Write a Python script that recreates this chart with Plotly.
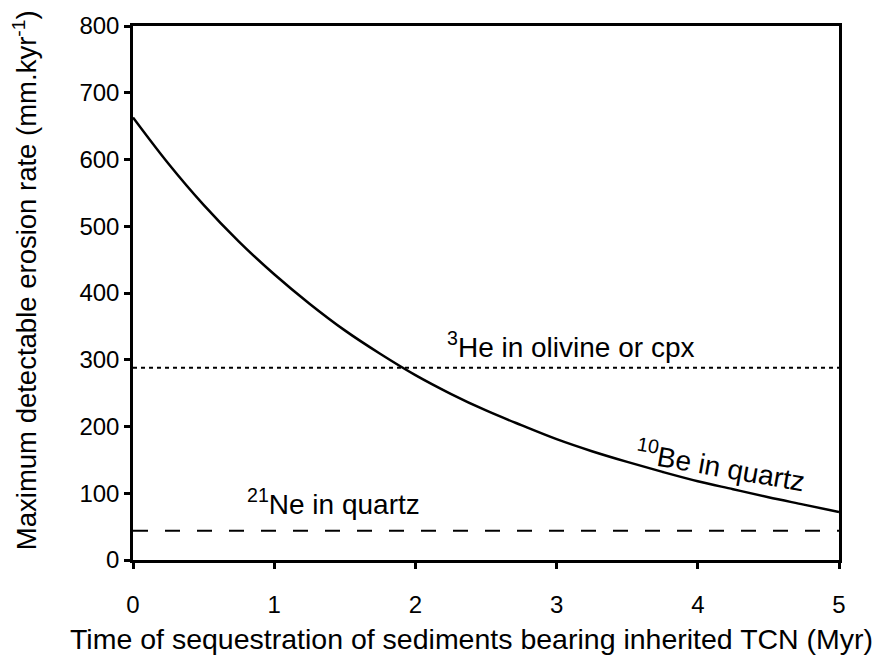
import plotly.graph_objects as go

# Maximum detectable erosion rate for 10Be in quartz vs. sequestration time
time_myr = [0.0, 0.25, 0.5, 0.75, 1.0, 1.25, 1.5, 1.75, 2.0, 2.25, 2.5,
            2.75, 3.0, 3.25, 3.5, 3.75, 4.0, 4.25, 4.5, 4.75, 5.0]
be10_rate = [663, 594, 532, 477, 428, 384, 344, 309, 277, 249, 224,
             202, 181, 163, 147, 132, 118, 106, 94, 83, 72]

# Constant thresholds for the stable nuclides
he3_rate = 288
ne21_rate = 44

x_ticks = [0, 1, 2, 3, 4, 5]
y_ticks = [0, 100, 200, 300, 400, 500, 600, 700, 800]

FONT = "Liberation Sans, Arial, sans-serif"

fig = go.Figure()

fig.add_trace(go.Scatter(
    x=time_myr, y=be10_rate, mode="lines",
    line=dict(color="black", width=2.5, shape="spline"),
    showlegend=False, hoverinfo="skip"))

fig.add_trace(go.Scatter(
    x=[x_ticks[0], x_ticks[-1]], y=[he3_rate, he3_rate], mode="lines",
    line=dict(color="black", width=2, dash="4px,4px"),
    showlegend=False, hoverinfo="skip"))

fig.add_trace(go.Scatter(
    x=[x_ticks[0], x_ticks[-1]], y=[ne21_rate, ne21_rate], mode="lines",
    line=dict(color="black", width=2, dash="15px,17px"),
    showlegend=False, hoverinfo="skip"))

label_font = dict(family=FONT, size=28, color="black")
fig.add_annotation(x=3.1, y=322, text="<sup>3</sup>He in olivine or cpx",
                   showarrow=False, font=label_font)
fig.add_annotation(x=1.42, y=87, text="<sup>21</sup>Ne in quartz",
                   showarrow=False, font=label_font)
fig.add_annotation(x=4.16, y=142, text="<sup>10</sup>Be in quartz",
                   showarrow=False, font=label_font, textangle=10)

# Axis titles placed as annotations
fig.add_annotation(xref="paper", yref="paper",
                   x=-0.153, y=0.524, xanchor="center", yanchor="middle",
                   text="Maximum detectable erosion rate (mm.kyr<sup>-1</sup>)",
                   textangle=-90, showarrow=False,
                   font=dict(family=FONT, size=27.5, color="black"))
fig.add_annotation(xref="paper", yref="paper",
                   x=0.48, y=-0.148, xanchor="center", yanchor="middle",
                   text="Time of sequestration of sediments bearing inherited TCN (Myr)",
                   showarrow=False,
                   font=dict(family=FONT, size=28.5, color="black"))

axis_common = dict(
    showline=True, linecolor="black", linewidth=2.5, mirror=True,
    ticks="outside", ticklen=6, tickwidth=2.5, tickcolor="black",
    showgrid=False, zeroline=False,
    tickfont=dict(family=FONT, size=24, color="black"),
)

fig.update_xaxes(range=[0, 5], tickvals=x_ticks, ticklabelstandoff=15,
                 **axis_common)
fig.update_yaxes(range=[0, 800], tickvals=y_ticks, **axis_common)

fig.update_layout(
    width=887, height=662,
    margin=dict(l=133, r=48, t=21, b=102),
    paper_bgcolor="white", plot_bgcolor="white",
)

fig.write_html("out.html")
